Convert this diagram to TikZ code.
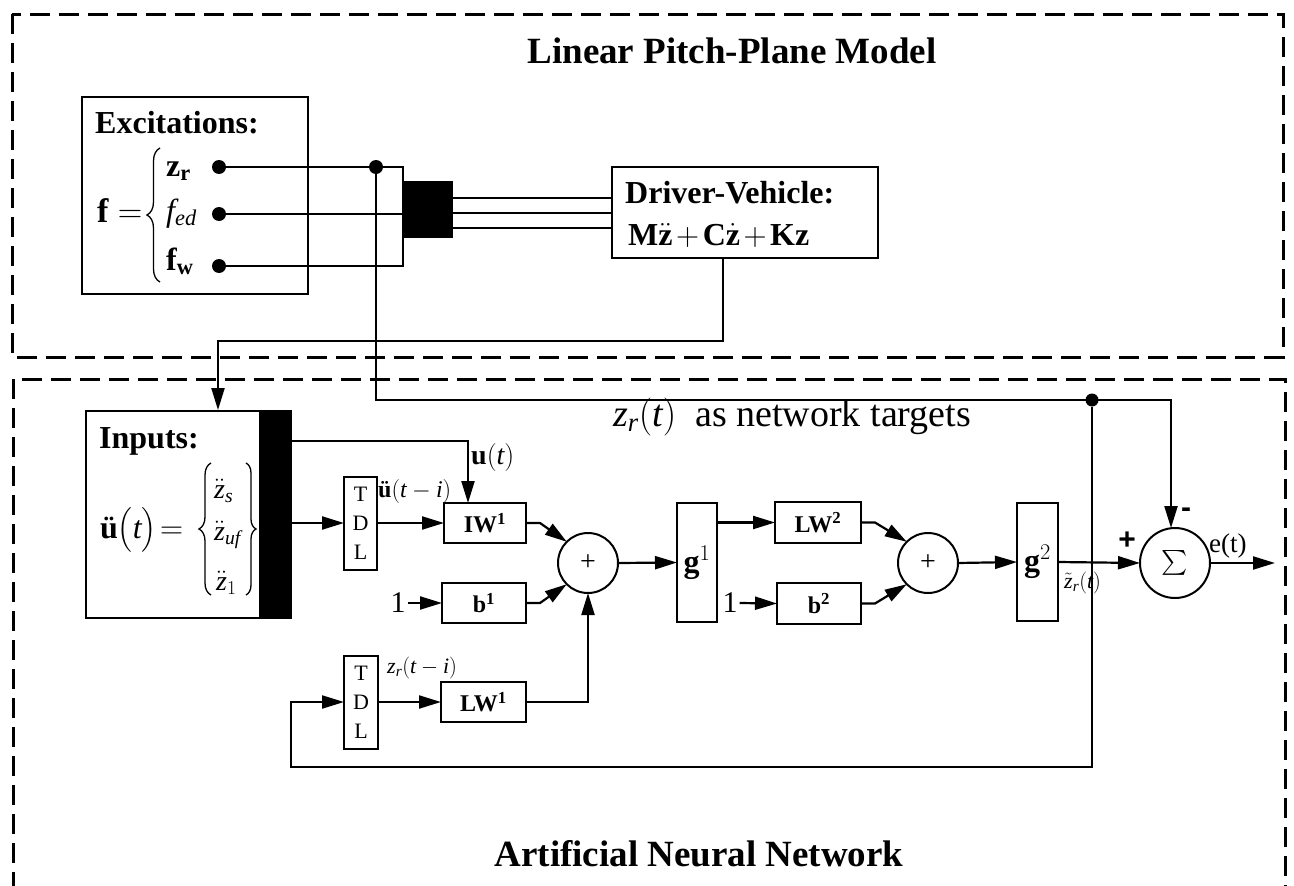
\RequirePackage{fix-cm}
\documentclass[tikz,border=0pt]{standalone}
\usepackage{amsmath}
\usepackage{fontspec}
\setmainfont{Liberation Serif}
\newfontfamily\arialf{Liberation Sans}
\usetikzlibrary{arrows.meta,decorations.pathreplacing,calc}
\newcommand\fsz[2]{\fontsize{#1}{#2}\selectfont}
\begin{document}
\begin{tikzpicture}[x=1pt,y=-1pt,
  box/.style={draw, line width=2pt, inner sep=0pt, outer sep=0pt},
  conn/.style={line width=2.2pt},
  arr/.style={conn, -{Triangle[length=22pt,width=13pt]}},
  dotn/.style={circle, fill, inner sep=0pt, minimum size=#1},
  dotn/.default=14pt,
  sumc/.style={circle, draw, line width=2pt, inner sep=0pt, outer sep=0pt},
  dashbox/.style={draw, line width=3pt, dash pattern=on 20pt off 9pt},
  brc/.style={decorate, line width=1.3pt},
  lbl/.style={inner sep=0pt}
]
\useasboundingbox (0,0) rectangle (1294,886);
\fill[white] (0,0) rectangle (1294,886);

% dashed frames
\draw[dashbox] (12,14) rectangle (1283,357);
\draw[dashbox] (13,379) rectangle (1285,905);

% titles
\node[lbl, anchor=base, font=\bfseries\fsz{37}{40}] (title) at (732,63) {Linear Pitch-Plane Model};
\node[lbl, anchor=base, font=\bfseries\fsz{37}{40}] (title2) at (699,866) {Artificial Neural Network};

% Excitations box
\node[box, minimum width=226, minimum height=197] (exc) at (195,195.5) {};
\node[lbl, anchor=base west, font=\bfseries\fsz{32}{34}] (exct) at (95,133) {Excitations:};
\node[lbl, anchor=base west, font=\fsz{34}{36}] (feq) at (97,222) {$\mathbf{f} =$};
\draw[brc, decoration={brace, amplitude=13pt}] (160,282) -- (160,148);
\node[lbl, anchor=base west, font=\fsz{32}{34}] (ezr) at (166,176) {$\mathbf{z}_{\mathbf{r}}$};
\node[lbl, anchor=base west, font=\fsz{32}{34}] (efed) at (166,221) {$\mathit{f}_{\mathit{ed}}$};
\node[lbl, anchor=base west, font=\fsz{32}{34}] (efw) at (166,270) {$\mathbf{f}_{\mathbf{w}}$};
\node[dotn] (zrdot) at (219,167) {};
\node[dotn] (feddot) at (219,214) {};
\node[dotn] (fwdot) at (219,266) {};
\node[dotn] (jdot) at (376,167) {};

% mux
\node[box, fill=black, minimum width=49, minimum height=55] (mux) at (427.5,209.5) {};
\coordinate (busT) at (403,167);
\coordinate (busB) at (403,266);

% Driver-Vehicle
\node[box, minimum width=266, minimum height=91] (dv) at (745,212.5) {};
\node[lbl, anchor=base west, font=\bfseries\fsz{32}{34}] (dvt) at (625,203) {Driver-Vehicle:};
\node[lbl, anchor=base west, font=\fsz{32}{34}] (dveq) at (628,245) {$\mathbf{M}\ddot{\mathbf{z}}\mkern2mu{+}\mkern2mu\mathbf{C}\dot{\mathbf{z}}\mkern2mu{+}\mkern2mu\mathbf{K}\mathbf{z}$};
\coordinate (dvout) at (723,258);

% connections top
\draw[conn] (zrdot) -- (busT) -- (busB) -- (fwdot);
\draw[conn] (feddot) -- (feddot -| mux.west);
\foreach \yy in {198,213,228}{
  \draw[conn] (mux.east |- 0,\yy) -- (dv.west |- 0,\yy);
}

% Inputs box
\node[box, minimum width=174, minimum height=207] (inp) at (173,514.5) {};
\node[box, fill=black, minimum width=31, minimum height=207] (bar) at (275.5,514.5) {};
\coordinate (inpin) at (218,410);
\node[lbl, anchor=base west, font=\bfseries\fsz{32}{34}] (inpt) at (99,448) {Inputs:};
\node[lbl, anchor=base west, font=\fsz{32}{34}] (ueq) at (100,538) {\textbf{ü}$\bigl(\mathit{t}\bigr)\!=$};
\draw[brc, decoration={brace, amplitude=12pt}] (211,595) -- (211,463);
\draw[brc, decoration={brace, amplitude=10pt}] (246,463) -- (246,595);
\node[lbl, anchor=base west, font=\fsz{28}{30}] (in1) at (214,498) {$\ddot{\mathit{z}}_{\mathit{s}}$};
\node[lbl, anchor=base west, font=\fsz{28}{30}] (in2) at (214,540) {$\ddot{\mathit{z}}_{\mathit{uf}}$};
\node[lbl, anchor=base west, font=\fsz{28}{30}] (in3) at (216,590) {$\ddot{\mathit{z}}_{1}$};

\draw[arr] (dvout) |- (218,341) -- (inpin);

% network blocks
\node[box, minimum width=33, minimum height=93, align=center, font=\fsz{22}{29}] (tdl1) at (360.5,523) {T\\D\\L};
\node[box, minimum width=82, minimum height=40, font=\fsz{24}{26}] (iw1) at (485,523) {\textbf{IW}$^{\mathbf{1}}$};
\node[box, minimum width=84, minimum height=40, font=\fsz{24}{26}] (b1) at (484,603) {\textbf{b}$^{\mathbf{1}}$};
\node[sumc, minimum size=60, font=\fsz{28}{28}] (sum1) at (588,563) {+};
\node[box, minimum width=40, minimum height=119, font=\fsz{32}{34}] (g1) at (697,562.5) {$\mathbf{g}^{1}$};
\node[box, minimum width=86, minimum height=41, font=\fsz{24}{26}] (lw2) at (818,522.5) {\textbf{LW}$^{\mathbf{2}}$};
\node[box, minimum width=84, minimum height=41, font=\fsz{24}{26}] (b2) at (819,603.5) {\textbf{b}$^{\mathbf{2}}$};
\node[sumc, minimum size=60, font=\fsz{28}{28}] (sum2) at (928,563) {+};
\node[box, minimum width=41, minimum height=118, font=\fsz{32}{34}] (g2) at (1037.5,562) {$\mathbf{g}^{2}$};
\node[sumc, minimum size=70, font=\fsz{30}{30}] (sig) at (1175,563) {$\sum$};
\coordinate (out) at (1275,563);
\node[box, minimum width=34, minimum height=93, align=center, font=\fsz{22}{29}] (tdl2) at (361,702) {T\\D\\L};
\node[box, minimum width=85, minimum height=40, font=\fsz{24}{26}] (lw1) at (483.5,702) {\textbf{LW}$^{\mathbf{1}}$};

\node[lbl, font=\fsz{30}{30}] (one1) at (398,603) {1};
\node[lbl, font=\fsz{30}{30}] (one2) at (730,603) {1};

\coordinate (ubar) at (291,441);
\coordinate (tdot0) at (1092,400);
\node[dotn=13pt] (tdot) at (tdot0) {};
\coordinate (sigin) at (1171,400);

% labels
\node[lbl, anchor=west, font=\fsz{24}{26}] (lu) at (378,491) {\textbf{ü}$(\mathit{t}-\mathit{i})$};
\node[lbl, anchor=west, font=\fsz{28}{30}] (lut) at (471,457) {$\mathbf{u}(\mathit{t})$};
\node[lbl, anchor=west, font=\fsz{22}{24}] (lzr) at (387,668) {$\mathit{z}_{\mathit{r}}(\mathit{t}-\mathit{i})$};
\node[lbl, anchor=west, font=\fsz{22}{24}] (lzt) at (1064,583) {$\tilde{\mathit{z}}_{\mathit{r}}(\mathit{t})$};
\node[lbl, anchor=west, font=\fsz{27}{29}] (le) at (1209,546) {e(t)};
\node[lbl, font=\arialf\bfseries\fsz{30}{30}] (plus) at (1127,541) {+};
\node[lbl, font=\arialf\bfseries\fsz{30}{30}] (minus) at (1186,513) {-};
\node[lbl, anchor=base west, font=\fsz{38}{40}] (targ) at (613,426) {$\mathit{z}_{\mathit{r}}(\mathit{t})$\ \ as network targets};

% connectors network
\draw[arr] (jdot) -- (376,400) -- (sigin) -- (sig.north -| sigin);
\draw[arr] (tdot) -- (1092,767) -- (291,767) -- (291,702) -- (tdl2.west);
\draw[arr] (ubar) -| (468,503);
\draw[arr] (bar.east |- tdl1.west) -- (tdl1.west);
\draw[arr] (tdl1.east) -- (iw1.west);
\draw[arr] (one1.east) ++(2,0) -- (b1.west);
\draw[arr] (iw1.east) -- ++(14,0) -- (sum1.135);
\draw[arr] (b1.east) -- ++(14,0) -- (sum1.225);
\draw[arr] (tdl2.east) -- (lw1.west);
\draw[arr] (lw1.east) -| (sum1.south);
\draw[arr] (sum1.east) -- (g1.west);
\draw[arr] (g1.east |- lw2.west) -- (lw2.west);
\draw[arr] (one2.east) ++(2,0) -- (b2.west);
\draw[arr] (lw2.east) -- ++(14,0) -- (sum2.135);
\draw[arr] (b2.east) -- ++(14,0) -- (sum2.225);
\draw[arr] (sum2.east) -- (g2.west);
\draw[arr] (g2.east) -- (sig.west);
\draw[arr] (sig.east) -- (out);
\end{tikzpicture}
\end{document}
